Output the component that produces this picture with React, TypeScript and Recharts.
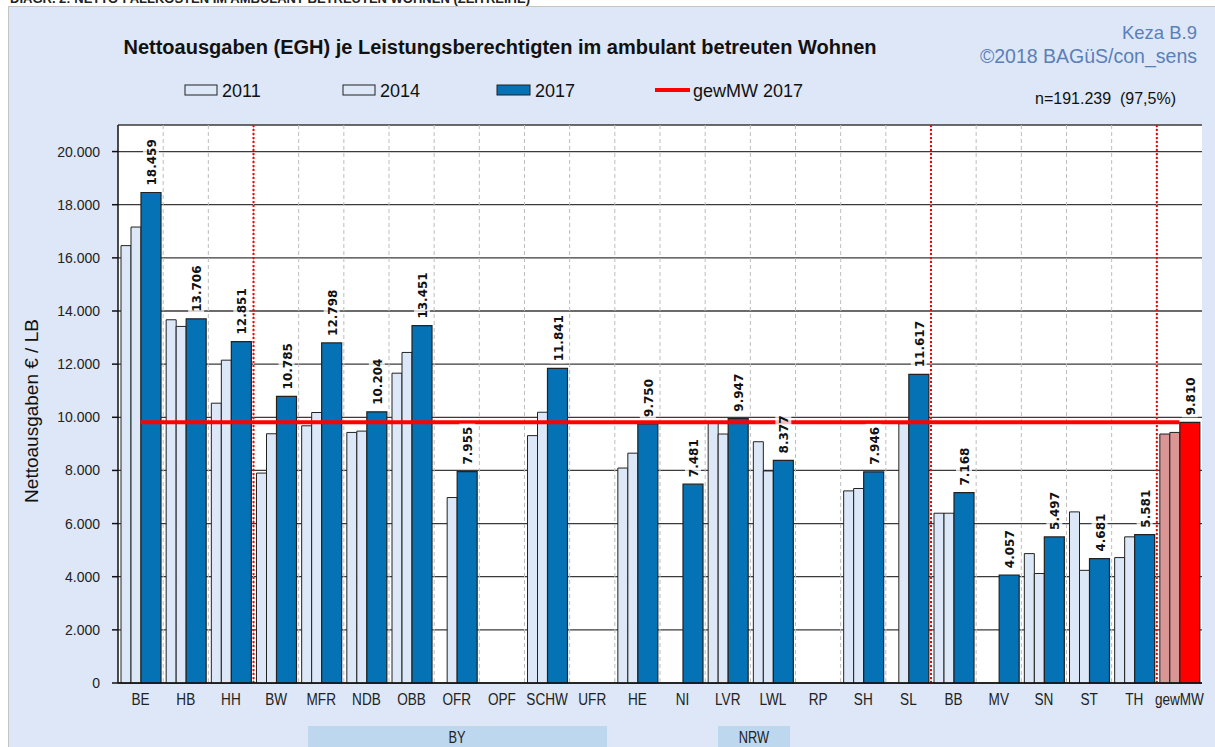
import React from "react";
import {
  BarChart,
  Bar,
  Cell,
  XAxis,
  YAxis,
  CartesianGrid,
  ReferenceLine,
  LabelList,
} from "recharts";

// Nettoausgaben je Leistungsberechtigten (EUR), ambulant betreutes Wohnen
const categories = [
  "BE", "HB", "HH", "BW", "MFR", "NDB", "OBB", "OFR", "OPF", "SCHW", "UFR", "HE",
  "NI", "LVR", "LWL", "RP", "SH", "SL", "BB", "MV", "SN", "ST", "TH", "gewMW",
];
const values2011 = [
  16460, 13670, 10530, 7900, 9680, 9430, 11660, null, null, 9310, null, 8090,
  null, 9800, 9080, null, 7230, null, 6390, null, 4870, 6440, 4720, 9370,
];
const values2014 = [
  17160, 13420, 12150, 9380, 10180, 9480, 12440, 6980, null, 10190, null, 8650,
  null, 9370, 7980, null, 7320, 9760, 6390, null, 4120, 4240, 5500, 9430,
];
const values2017 = [
  18459, 13706, 12851, 10785, 12798, 10204, 13451, 7955, null, 11841, null, 9750,
  7481, 9947, 8377, null, 7946, 11617, 7168, 4057, 5497, 4681, 5581, 9810,
];
const meanValue2017 = 9810;
const yTicks = [0, 2000, 4000, 6000, 8000, 10000, 12000, 14000, 16000, 18000, 20000];
const groupStarts = ["BW", "BB", "gewMW"];
const seriesNames = ["2011", "2014", "2017", "gewMW 2017"];

const data = categories.map((cat, i) => ({
  cat,
  v2011: values2011[i],
  v2014: values2014[i],
  v2017: values2017[i],
}));

const LIGHT = "#dce8f8";
const BLUE = "#0572b6";
const MEAN_LIGHT = "#d99694";
const RED = "#ff0000";
const FONT = "'Liberation Sans', Arial, sans-serif";

const fmt = (v: number) => v.toLocaleString("de-DE");

const ValueLabel = (props: any) => {
  const { x, y, width, value } = props;
  if (value == null) return null;
  const text = fmt(Number(value));
  const cx = Number(x) + Number(width) / 2;
  const base = Number(y) - 5;
  const len = text.length * 7.8 + 4;
  return (
    <g>
      <rect x={cx - 8} y={base - len} width={16} height={len} fill="#fff" fillOpacity={0.75} />
      <text
        transform={`translate(${cx + 1},${base - 2}) rotate(-90)`}
        textAnchor="start"
        dominantBaseline="central"
        fontFamily="'DejaVu Sans', Verdana, sans-serif"
        fontSize={12}
        fontWeight={700}
        fill="#111"
      >
        {text}
      </text>
    </g>
  );
};

// condensed category labels like the original
const CatTick = (props: any) => {
  const { x, y, payload } = props;
  return (
    <text
      transform={`translate(${x},${y + 18}) scale(0.8,1)`}
      textAnchor="middle"
      fontFamily={FONT}
      fontSize={17}
      fill="#222"
    >
      {payload.value}
    </text>
  );
};

// dashed separators between the category bands
const boundaryXs = ({ xAxis, offset }: any) => {
  const s = xAxis?.scale;
  if (typeof s === "function" && typeof s.bandwidth === "function") {
    return categories.slice(1).map((c) => s(c));
  }
  const w = offset.width / categories.length;
  return categories.slice(1).map((_, i) => offset.left + (i + 1) * w);
};

export default function App() {
  return (
    <div style={{ position: "absolute", left: 0, top: 0, width: 1215, height: 747, background: "#fff", overflow: "hidden" }}>
      {/* cut-off caption above the panel */}
      <div style={{ position: "absolute", left: 10, top: -9, fontFamily: FONT, fontWeight: 700, fontSize: 13, color: "#222", whiteSpace: "nowrap" }}>
        DIAGR. 2: NETTO-FALLKOSTEN IM AMBULANT BETREUTEN WOHNEN (ZEITREIHE)
      </div>
      <div style={{ position: "absolute", left: 8, top: 6, right: 0, bottom: 0, background: "#dde7f7", borderLeft: "1px solid #c4c4c4", borderTop: "1px solid #c4c4c4" }} />

      <svg width={1215} height={747} style={{ position: "absolute", left: 0, top: 0 }}>
        <text x={500} y={54} textAnchor="middle" fontFamily={FONT} fontWeight={700} fontSize={20} fill="#111">
          Nettoausgaben (EGH) je Leistungsberechtigten im ambulant betreuten Wohnen
        </text>
        <text x={1197} y={39} textAnchor="end" fontFamily={FONT} fontSize={18.5} fill="#5b7fb8">Keza B.9</text>
        <text x={1197} y={63} textAnchor="end" fontFamily={FONT} fontSize={19.5} fill="#5b7fb8">©2018 BAGüS/con_sens</text>
        <text x={1035} y={104} fontFamily={FONT} fontSize={16} fill="#111" style={{ whiteSpace: "pre" }}>n=191.239  (97,5%)</text>

        {/* legend */}
        <rect x={185} y={85} width={32} height={10} fill={LIGHT} stroke="#222" />
        <text x={222} y={97} fontFamily={FONT} fontSize={18} fill="#111">{seriesNames[0]}</text>
        <rect x={343} y={85} width={32} height={10} fill={LIGHT} stroke="#222" />
        <text x={380} y={97} fontFamily={FONT} fontSize={18} fill="#111">{seriesNames[1]}</text>
        <rect x={497} y={85} width={33} height={10} fill={BLUE} stroke="#222" />
        <text x={535} y={97} fontFamily={FONT} fontSize={18} fill="#111">{seriesNames[2]}</text>
        <line x1={655} x2={690} y1={90} y2={90} stroke={RED} strokeWidth={4} />
        <text x={693} y={97} fontFamily={FONT} fontSize={18} fill="#111">{seriesNames[3]}</text>

        {/* y axis title */}
        <text transform="translate(38,411) rotate(-90)" textAnchor="middle" fontFamily={FONT} fontSize={19} fill="#111">
          Nettoausgaben € / LB
        </text>

        {/* region groups */}
        <rect x={308} y={726} width={299} height={22} fill="#bdd7ee" />
        <text transform="translate(457,743) scale(0.8,1)" textAnchor="middle" fontFamily={FONT} fontSize={16} fill="#222">BY</text>
        <rect x={718} y={726} width={72} height={22} fill="#bdd7ee" />
        <text transform="translate(754,743) scale(0.8,1)" textAnchor="middle" fontFamily={FONT} fontSize={16} fill="#222">NRW</text>
      </svg>

      <div style={{ position: "absolute", left: 0, top: 0 }}>
        <BarChart
          width={1215}
          height={747}
          data={data}
          margin={{ top: 125, right: 13, bottom: 34, left: 18 }}
          barGap={0}
        >
          <CartesianGrid vertical={false} stroke="#3a3a3a" strokeWidth={1.3} fill="#fff" />
          <CartesianGrid
            horizontal={false}
            stroke="#bdbdbd"
            strokeDasharray="4 3"
            verticalCoordinatesGenerator={boundaryXs}
          />
          <XAxis
            dataKey="cat"
            height={30}
            interval={0}
            tickLine={false}
            tickSize={0}
            tickMargin={4}
            axisLine={{ stroke: "#111", strokeWidth: 1.5 }}
            tick={<CatTick />}
          />
          <YAxis
            width={100}
            domain={[0, 21000]}
            ticks={yTicks}
            tickFormatter={fmt}
            tickSize={6}
            tickMargin={12}
            axisLine={{ stroke: "#111", strokeWidth: 1.5 }}
            tickLine={{ stroke: "#111", strokeWidth: 1.5 }}
            tick={{ fontFamily: FONT, fontSize: 14, fill: "#222" }}
          />
          <Bar dataKey="v2011" barSize={10} fill={LIGHT} stroke="#222" strokeWidth={1} isAnimationActive={false}>
            {data.map((d) => (
              <Cell key={d.cat} fill={d.cat === "gewMW" ? MEAN_LIGHT : LIGHT} />
            ))}
          </Bar>
          <Bar dataKey="v2014" barSize={10} fill={LIGHT} stroke="#222" strokeWidth={1} isAnimationActive={false}>
            {data.map((d) => (
              <Cell key={d.cat} fill={d.cat === "gewMW" ? MEAN_LIGHT : LIGHT} />
            ))}
          </Bar>
          <Bar dataKey="v2017" barSize={20} fill={BLUE} stroke="#222" strokeWidth={1.2} isAnimationActive={false}>
            {data.map((d) => (
              <Cell key={d.cat} fill={d.cat === "gewMW" ? RED : BLUE} />
            ))}
            <LabelList dataKey="v2017" content={ValueLabel} />
          </Bar>
          {groupStarts.map((c) => (
            <ReferenceLine key={c} x={c} position="start" stroke={RED} strokeWidth={2} strokeDasharray="2 2" />
          ))}
          <ReferenceLine
            segment={[
              { x: categories[0], y: meanValue2017 },
              { x: categories[categories.length - 1], y: meanValue2017 },
            ]}
            stroke={RED}
            strokeWidth={4}
            ifOverflow="visible"
          />
        </BarChart>
      </div>
    </div>
  );
}
